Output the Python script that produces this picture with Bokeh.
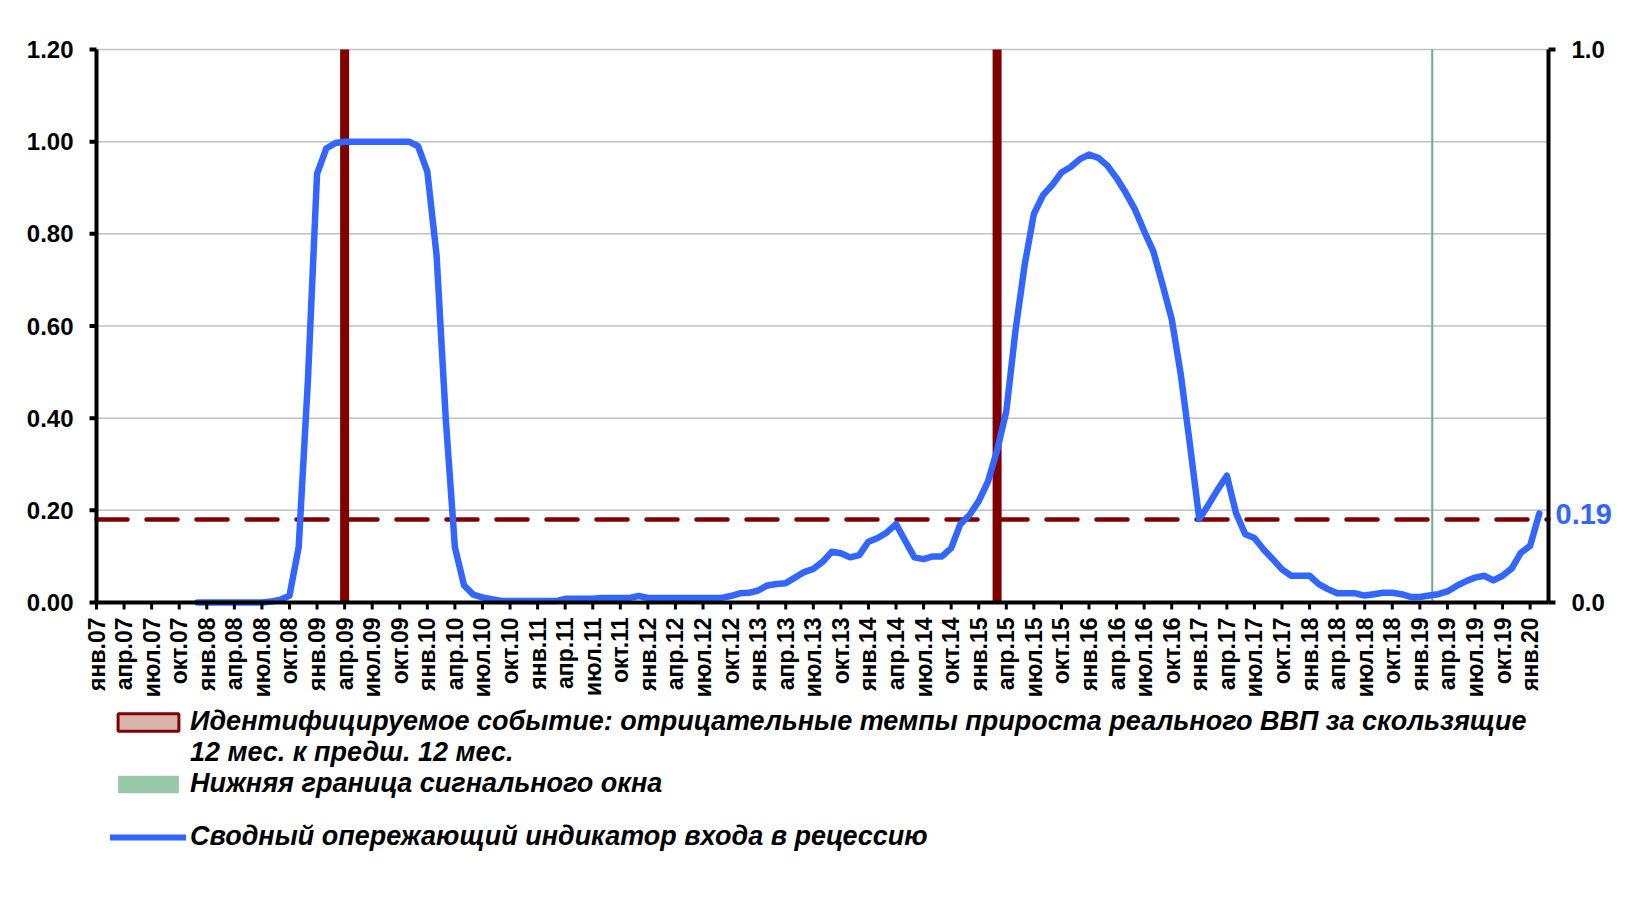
import math
from bokeh.plotting import figure
from bokeh.core.properties import value
from bokeh.models import Range1d, Legend, LegendItem, Label
from bokeh.embed import file_html
from bokeh.resources import INLINE

# ---------------- data ----------------
BASE_YEAR = 2007
tick_month_names = ["янв", "апр", "июл", "окт"]      # quarterly tick labels
axis_first = "2007-01"
axis_last = "2020-03"
series_start = "2007-12"

# Сводный опережающий индикатор входа в рецессию (monthly, from Dec 2007)
indicator_2007 = [0.0]
indicator_2008 = [0.0, 0.0, 0.0, 0.0, 0.0, 0.0, 0.0, 0.002, 0.006, 0.015, 0.12, 0.48]
indicator_2009 = [0.93, 0.985, 0.997, 1.0, 1.0, 1.0, 1.0, 1.0, 1.0, 1.0, 1.0, 0.99]
indicator_2010 = [0.935, 0.755, 0.40, 0.12, 0.037, 0.017, 0.011, 0.007, 0.004, 0.003, 0.003, 0.003]
indicator_2011 = [0.003, 0.003, 0.003, 0.008, 0.008, 0.008, 0.008, 0.010, 0.010, 0.010, 0.010, 0.014]
indicator_2012 = [0.010, 0.010, 0.010, 0.010, 0.010, 0.010, 0.010, 0.010, 0.010, 0.014, 0.020, 0.021]
indicator_2013 = [0.026, 0.037, 0.040, 0.042, 0.054, 0.066, 0.073, 0.088, 0.110, 0.107, 0.098, 0.103]
indicator_2014 = [0.132, 0.140, 0.152, 0.170, 0.134, 0.098, 0.094, 0.100, 0.100, 0.118, 0.170, 0.190]
indicator_2015 = [0.220, 0.262, 0.330, 0.415, 0.590, 0.733, 0.843, 0.884, 0.906, 0.933, 0.945, 0.962]
indicator_2016 = [0.972, 0.965, 0.948, 0.921, 0.889, 0.853, 0.806, 0.762, 0.690, 0.615, 0.493, 0.340]
indicator_2017 = [0.181, 0.212, 0.245, 0.275, 0.194, 0.148, 0.140, 0.115, 0.094, 0.072, 0.058, 0.058]
indicator_2018 = [0.058, 0.040, 0.029, 0.020, 0.020, 0.020, 0.015, 0.018, 0.021, 0.021, 0.018, 0.012]
indicator_2019 = [0.012, 0.015, 0.018, 0.024, 0.036, 0.046, 0.054, 0.058, 0.048, 0.058, 0.074, 0.108]
indicator_2020 = [0.123, 0.193]

# Идентифицируемое событие (secondary axis, value 1)
event_months = ["2009-04", "2015-03"]
event_values = [1.0, 1.0]
# Нижняя граница сигнального окна (secondary axis, value 1)
signal_months = ["2019-02"]
signal_values = [1.0]
# threshold
threshold = 0.18

left_ticks = [0, 0.2, 0.4, 0.6, 0.8, 1.0, 1.2]
right_ticks = [0.0, 1.0]

label_event = "Идентифицируемое событие: отрицательные темпы прироста реального ВВП за скользящие"
label_event2 = "12 мес. к предш. 12 мес."
label_signal = "Нижняя граница сигнального окна"
label_indicator = "Сводный опережающий индикатор входа в рецессию"


def month_index(s):
    y, m = map(int, s.split("-"))
    return (y - BASE_YEAR) * 12 + (m - 1)


indicator = (indicator_2007 + indicator_2008 + indicator_2009 + indicator_2010 +
             indicator_2011 + indicator_2012 + indicator_2013 + indicator_2014 +
             indicator_2015 + indicator_2016 + indicator_2017 + indicator_2018 +
             indicator_2019 + indicator_2020)
x0 = month_index(series_start)
xs = list(range(x0, x0 + len(indicator)))
x_min = month_index(axis_first)
x_max = month_index(axis_last)

ticks = list(range(x_min, x_max + 1, 3))
tick_texts = []
for t in ticks:
    yr = BASE_YEAR + t // 12
    tick_texts.append(f"{tick_month_names[(t % 12) // 3]}.{yr % 100:02d}")

# ---------------- layout geometry (screen px) ----------------
W, H = 1650, 900
PLOT_LEFT, PLOT_RIGHT = 96, 1548      # left / right axis positions
PLOT_TOP, PLOT_BOTTOM = 49, 602       # y=1.2 / y=0
y_top_val = left_ticks[-1]
px_per_x = (PLOT_RIGHT - PLOT_LEFT) / (x_max - x_min)
px_per_y = (PLOT_BOTTOM - PLOT_TOP) / y_top_val
x_lo = x_min - PLOT_LEFT / px_per_x                  # frame covers the whole canvas
x_hi = x_max + (W - PLOT_RIGHT) / px_per_x
y_hi = y_top_val + PLOT_TOP / px_per_y
y_lo = -(H - PLOT_BOTTOM) / px_per_y
sec_scale = right_ticks[-1] / y_top_val              # secondary: 1.0 <-> 1.2

FONT = "Liberation Sans"
p = figure(width=W, height=H, output_backend="svg", toolbar_location=None,
           title=None, x_axis_location=None, y_axis_location=None,
           x_range=Range1d(x_lo, x_hi), y_range=Range1d(y_lo, y_hi),
           min_border_left=0, min_border_right=0, min_border_top=0,
           min_border_bottom=0)
p.extra_y_ranges = {"sec": Range1d(y_lo * sec_scale, y_hi * sec_scale)}
p.outline_line_color = None
p.background_fill_color = "white"
p.border_fill_color = "white"
p.xgrid.visible = False
p.ygrid.visible = False

# horizontal grid lines (limited to the plot area)
grid_y = left_ticks[1:]
p.segment(x0=[x_min] * len(grid_y), y0=grid_y, x1=[x_max] * len(grid_y), y1=grid_y,
          line_color="#C0C0C0", line_width=1.5)

# signal window lower boundary (thin green line)
sig_x = [month_index(m) + 0.35 for m in signal_months]
p.vbar(x=sig_x, top=signal_values, bottom=0, width=0.22, y_range_name="sec",
       fill_color="#6DB088", line_color=None)

# events (dark red columns)
ev_x = [month_index(m) for m in event_months]
p.vbar(x=ev_x, top=event_values, bottom=0, width=0.98, y_range_name="sec",
       fill_color="#800000", line_color=None)

# threshold dashed line
p.line(x=[x_min, x_max], y=[threshold, threshold], line_color="#800000",
       line_width=4.5, line_dash="31 19", line_cap="round")

# indicator
p.line(x=xs, y=indicator, line_color="#3366FF", line_width=6.5,
       line_join="round", line_cap="round")

# left axis: line, outward ticks and labels
y_tick_len = 7 / px_per_x
p.segment(x0=[x_min], y0=[0], x1=[x_min], y1=[y_top_val], line_color="black",
          line_width=4)
p.segment(x0=[x_min - y_tick_len] * len(left_ticks), y0=left_ticks,
          x1=[x_min] * len(left_ticks), y1=left_ticks,
          line_color="black", line_width=4)
p.text(x=[x_min - 23 / px_per_x] * len(left_ticks), y=left_ticks,
       text=[f"{v:.2f}" for v in left_ticks],
       text_align="right", text_baseline="middle",
       text_font=value(FONT), text_font_size="24px", text_font_style="bold",
       text_color="black")

# x axis: line, outward ticks and rotated month labels
x_tick_len = 7 / px_per_y
p.segment(x0=[x_min], y0=[0], x1=[x_max], y1=[0], line_color="black", line_width=4)
p.segment(x0=ticks, y0=[0] * len(ticks), x1=ticks, y1=[-x_tick_len] * len(ticks),
          line_color="black", line_width=3)
label_top = -(2 + 7 + 6) / px_per_y
p.text(x=ticks, y=[label_top] * len(ticks), text=tick_texts, angle=math.pi / 2,
       text_align="right", text_baseline="middle",
       text_font=value(FONT), text_font_size="23px", text_font_style="bold",
       text_color="black")

# secondary (right) axis: line, outward ticks and labels
tick_len = 7 / px_per_x
p.segment(x0=[x_max], y0=[right_ticks[0]], x1=[x_max], y1=[right_ticks[-1]],
          y_range_name="sec", line_color="black", line_width=4)
p.segment(x0=[x_max] * len(right_ticks), y0=right_ticks,
          x1=[x_max + tick_len] * len(right_ticks), y1=right_ticks,
          y_range_name="sec", line_color="black", line_width=4)
p.text(x=[x_max] * len(right_ticks), y=right_ticks,
       text=[f"{v:.1f}" for v in right_ticks], y_range_name="sec",
       x_offset=23, text_baseline="middle", text_align="left",
       text_font=value(FONT), text_font_size="24px",
       text_font_style="bold", text_color="black")

# last value label
last = indicator[-1]
p.add_layout(Label(x=x_max, y=last, x_offset=7, text=f"{last:.2f}",
                   text_font=FONT, text_font_style="bold", text_font_size="29px",
                   text_color="#3366FF", text_baseline="middle", text_align="left"))

# ---------------- legend (below the chart) ----------------
hide_x = [x_lo - 50, x_lo - 49]
hide_y = [y_lo - 5, y_lo - 4]
r_ev_leg = p.quad(left=[hide_x[0]], right=[hide_x[1]], top=[hide_y[1]], bottom=[hide_y[0]],
                  fill_color="#D9B4AC", line_color="#800000", line_width=3)
r_sig_leg = p.quad(left=[hide_x[0]], right=[hide_x[1]], top=[hide_y[1]], bottom=[hide_y[0]],
                   fill_color="#7DBB95", fill_alpha=0.8, line_color=None)
r_blank = p.quad(left=[hide_x[0]], right=[hide_x[1]], top=[hide_y[1]], bottom=[hide_y[0]],
                 fill_alpha=0, line_alpha=0)
r_ind_leg = p.line(x=hide_x, y=hide_y, line_color="#3366FF", line_width=6,
                   line_cap="round")

N_ROWS = 5
ITEM_H = 31.5          # text height of a 27px label
ROW_GAP = -3
LEG_TOP = 706
leg_height = N_ROWS * ITEM_H + (N_ROWS - 1) * ROW_GAP
legend = Legend(items=[
    LegendItem(label=label_event, renderers=[r_ev_leg]),
    LegendItem(label=label_event2, renderers=[r_blank]),
    LegendItem(label=label_signal, renderers=[r_sig_leg]),
    LegendItem(label=" ", renderers=[r_blank]),
    LegendItem(label=label_indicator, renderers=[r_ind_leg]),
], location=(PLOT_LEFT + 14, round(H - LEG_TOP - leg_height)), orientation="vertical",
    glyph_width=76, glyph_height=22, label_standoff=4, spacing=ROW_GAP, padding=0,
    margin=0, border_line_alpha=0, background_fill_alpha=0,
    label_text_font=FONT, label_text_font_style="bold italic",
    label_text_font_size="27px", label_text_color="black", label_height=20)
p.add_layout(legend)

open("out.html", "w").write(file_html(p, INLINE))
